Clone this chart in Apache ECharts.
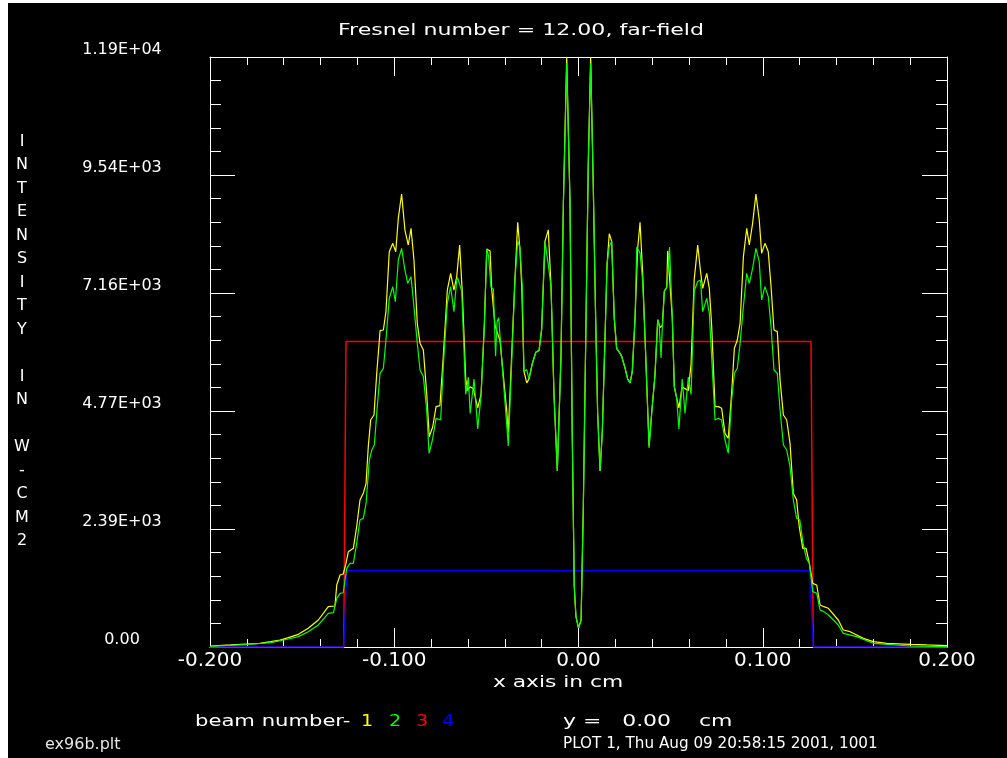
<!DOCTYPE html>
<html>
<head>
<meta charset="utf-8">
<script src="https://cdn.jsdelivr.net/npm/echarts@6/dist/echarts.min.js"></script>
<style>
  html, body { margin: 0; padding: 0; background: #ffffff; }
  #chart { width: 1007px; height: 758px; }
</style>
</head>
<body>
<div id="chart"></div>
<script>
// Far-field intensity profiles, beams 1-4 (x in cm, intensity in W/cm2)
const xTickLabels = ['-0.200', '-0.100', '0.00', '0.100', '0.200'];
const yTickLabels = ['0.00', '2.39E+03', '4.77E+03', '7.16E+03', '9.54E+03', '1.19E+04'];
const X_MIN = -0.2, X_MAX = 0.2, X_STEP = 0.1;
const Y_MIN = 0, Y_MAX = 11925, Y_STEP = 2385;

const beam1 = [
  [-0.200, 20], [-0.189, 41], [-0.180, 61], [-0.173, 75], [-0.167, 108], [-0.162, 142], [-0.1575, 189],
  [-0.152, 256], [-0.1467, 378], [-0.1412, 546], [-0.1358, 815], [-0.1322, 829], [-0.1312, 1253],
  [-0.1294, 1455], [-0.1277, 1475], [-0.1262, 1691], [-0.1249, 1926], [-0.1222, 1994], [-0.1204, 2431],
  [-0.1186, 2971], [-0.1168, 3106], [-0.1153, 3308], [-0.1141, 4048], [-0.1128, 4588], [-0.111, 4689],
  [-0.1095, 5532], [-0.1077, 6393], [-0.1059, 6407], [-0.1045, 6777], [-0.1027, 7990], [-0.1008, 8159],
  [-0.0992, 7990], [-0.0978, 8664], [-0.096, 9156], [-0.0942, 8428], [-0.0924, 8125], [-0.0909, 8462],
  [-0.0893, 7822], [-0.0875, 6542], [-0.086, 6138], [-0.0842, 6003], [-0.0824, 5127], [-0.081, 4250],
  [-0.0791, 4452], [-0.0773, 4857], [-0.0752, 4877], [-0.0734, 5867], [-0.0712, 7215], [-0.0694, 7553],
  [-0.0676, 7215], [-0.0661, 7485], [-0.0645, 8122], [-0.063, 7117], [-0.0612, 5415], [-0.0601, 5183],
  [-0.0589, 5260], [-0.0571, 5222], [-0.0547, 4835], [-0.0529, 5105], [-0.0511, 6498], [-0.0498, 8045],
  [-0.048, 8006], [-0.0471, 7233], [-0.0453, 6498], [-0.0444, 6459], [-0.0426, 6188], [-0.0408, 5492],
  [-0.039, 4796], [-0.0381, 4332], [-0.0363, 5879], [-0.0345, 7426], [-0.033, 8586], [-0.0318, 8045],
  [-0.0308, 7271], [-0.0296, 5569], [-0.0281, 5338], [-0.0269, 5415], [-0.0251, 5724], [-0.0232, 5956],
  [-0.0214, 5995], [-0.02, 6420], [-0.0182, 8200], [-0.0164, 8432], [-0.0149, 7271], [-0.0133, 5105],
  [-0.0115, 3559], [-0.0095, 5879], [-0.0082, 8973], [-0.0064, 11925], [-0.0046, 8973], [-0.0034, 4332],
  [-0.0023, 1238], [-0.0014, 619], [0, 387], [0.0014, 542], [0.0026, 2785], [0.0041, 6653], [0.0053, 9747],
  [0.0066, 11925], [0.008, 9360], [0.0093, 6653], [0.0104, 4719], [0.0117, 3559], [0.0129, 4332],
  [0.0144, 6266], [0.0155, 7735], [0.0167, 8354], [0.018, 8200], [0.0194, 6653], [0.0207, 6034],
  [0.0222, 5956], [0.0234, 5879], [0.0252, 5647], [0.0267, 5415], [0.028, 5338], [0.0292, 5569],
  [0.0307, 6653], [0.0321, 8045], [0.0334, 8586], [0.0348, 7581], [0.0361, 6266], [0.0383, 4061],
  [0.0397, 4719], [0.0415, 5492], [0.043, 6614], [0.0442, 6459], [0.0455, 6498], [0.0466, 7194],
  [0.0479, 7271], [0.0484, 8006], [0.0493, 8006], [0.0509, 6653], [0.052, 5261], [0.0533, 5028],
  [0.0545, 4835], [0.0563, 5261], [0.0578, 5222], [0.0596, 5183], [0.0611, 5724], [0.0628, 7426],
  [0.0647, 8122], [0.0662, 7600], [0.0674, 7249], [0.0696, 7553], [0.071, 7249], [0.0723, 6475],
  [0.0741, 4858], [0.0759, 4858], [0.0777, 4824], [0.0795, 4319], [0.0813, 4218], [0.0831, 5127],
  [0.0846, 6037], [0.0862, 6205], [0.0877, 6542], [0.0895, 7890], [0.0913, 8462], [0.0927, 8125],
  [0.0945, 8563], [0.0963, 9156], [0.0981, 8631], [0.0994, 7957], [0.1012, 8159], [0.103, 7990],
  [0.1045, 7283], [0.1061, 6407], [0.1079, 6374], [0.1094, 5397], [0.1112, 4689], [0.113, 4588],
  [0.1148, 4117], [0.1166, 3106], [0.1184, 2971], [0.1198, 2433], [0.1217, 1994], [0.1235, 1994],
  [0.1253, 1691], [0.1271, 1287], [0.1293, 1253], [0.1311, 849], [0.1332, 815], [0.1356, 782],
  [0.141, 546], [0.1437, 344], [0.1474, 310], [0.151, 243], [0.1546, 175], [0.16, 108], [0.1673, 75],
  [0.18, 54], [0.189, 41], [0.2, 27]
];

const beam2 = [
  [-0.2, 15], [-0.18, 50], [-0.167, 90], [-0.1575, 162], [-0.152, 210], [-0.1467, 310], [-0.1412, 445],
  [-0.1358, 681], [-0.133, 693], [-0.1312, 984], [-0.1294, 1085], [-0.1277, 1097], [-0.1258, 1590],
  [-0.124, 1691], [-0.1222, 1691], [-0.1204, 2096], [-0.1186, 2567], [-0.1168, 2601], [-0.1153, 2904],
  [-0.1135, 3779], [-0.1122, 3981], [-0.1108, 4082], [-0.1095, 4723], [-0.1077, 5532], [-0.1059, 5633],
  [-0.1045, 6205], [-0.1027, 7048], [-0.1008, 7282], [-0.0994, 6979], [-0.0978, 7822], [-0.096, 8058],
  [-0.0942, 7620], [-0.0927, 7351], [-0.0909, 7485], [-0.0893, 6878], [-0.0875, 6138], [-0.086, 5599],
  [-0.0842, 5464], [-0.0824, 4790], [-0.0811, 3915], [-0.0793, 4184], [-0.0773, 4622], [-0.0748, 4588],
  [-0.0734, 5666], [-0.0712, 6946], [-0.0694, 7282], [-0.0676, 6777], [-0.0661, 7418], [-0.0656, 7465],
  [-0.0634, 7194], [-0.0612, 5105], [-0.0598, 5453], [-0.0588, 4719], [-0.0567, 5415], [-0.0547, 4409],
  [-0.0529, 5067], [-0.0511, 6498], [-0.0498, 8045], [-0.0488, 7900], [-0.0475, 7271], [-0.0462, 7233],
  [-0.045, 5879], [-0.0442, 6575], [-0.0433, 6653], [-0.0418, 5879], [-0.0399, 4951], [-0.0381, 4061],
  [-0.0363, 5724], [-0.0345, 7426], [-0.033, 8200], [-0.0318, 8084], [-0.0305, 7271], [-0.0296, 5569],
  [-0.0281, 5608], [-0.0269, 5415], [-0.0251, 5724], [-0.0232, 5956], [-0.0214, 5995], [-0.02, 6420],
  [-0.0182, 8200], [-0.0173, 8240], [-0.0164, 7735], [-0.0149, 7271], [-0.0133, 5105], [-0.0115, 3559],
  [-0.0095, 5879], [-0.0082, 8973], [-0.0064, 11800], [-0.0046, 8973], [-0.0034, 4332], [-0.0023, 1238],
  [-0.0014, 619], [0, 387], [0.0014, 542], [0.0026, 2785], [0.0041, 6653], [0.0053, 9747], [0.0066, 11800],
  [0.008, 9360], [0.0093, 6653], [0.0104, 4719], [0.0117, 3559], [0.0129, 4332], [0.0144, 6266],
  [0.0155, 7735], [0.0167, 8100], [0.018, 8200], [0.0194, 6653], [0.0207, 6034], [0.0222, 5956],
  [0.0234, 5879], [0.0252, 5647], [0.0267, 5415], [0.028, 5338], [0.0292, 5569], [0.0307, 6653],
  [0.0316, 8084], [0.0334, 7967], [0.0348, 7400], [0.0361, 6266], [0.0383, 4023], [0.0397, 4719],
  [0.0415, 5492], [0.043, 6614], [0.0438, 6500], [0.0448, 5840], [0.0455, 6459], [0.0466, 7194],
  [0.0479, 7271], [0.0494, 8084], [0.0509, 6653], [0.052, 5261], [0.0533, 5028], [0.0545, 4409],
  [0.0563, 5415], [0.0578, 4719], [0.0596, 5453], [0.0611, 5105], [0.0628, 7194], [0.0647, 7387],
  [0.0662, 7418], [0.0674, 6778], [0.0696, 7047], [0.071, 6744], [0.0741, 4588], [0.0759, 4622],
  [0.0777, 4588], [0.0795, 4184], [0.0813, 3915], [0.0831, 4993], [0.0846, 5532], [0.0862, 5633],
  [0.0877, 6138], [0.0895, 6879], [0.0913, 7553], [0.0927, 7350], [0.0945, 7654], [0.0963, 8058],
  [0.0981, 7788], [0.0994, 7014], [0.1012, 7283], [0.103, 7081], [0.1045, 6475], [0.1061, 5599],
  [0.1079, 5532], [0.1094, 4790], [0.1112, 4083], [0.113, 3982], [0.1148, 3645], [0.1166, 2971],
  [0.1184, 2601], [0.1201, 2567], [0.1219, 2096], [0.1237, 1792], [0.1253, 1691], [0.1271, 1119],
  [0.1293, 1085], [0.1311, 748], [0.1332, 715], [0.1356, 647], [0.141, 445], [0.1437, 276], [0.151, 209],
  [0.16, 75], [0.18, 20], [0.2, 7]
];

const beam3 = [[-0.2, 0], [-0.1274, 0], [-0.1262, 6175], [0.1262, 6175], [0.1274, 0], [0.2, 0]];
const beam4 = [[-0.2, 0], [-0.1274, 0], [-0.1258, 1542], [0.1253, 1542], [0.1274, 0], [0.2, 0]];

const beamColors = ['#ffff00', '#00ff00', '#ff0000', '#0000ff'];
const FONT = 'DejaVu Sans';
const yTitleChars = ['I', 'N', 'T', 'E', 'N', 'S', 'I', 'T', 'Y', ' ', 'I', 'N', ' ', 'W', '-', 'C', 'M', '2'];

const white = '#ffffff';

function xAxisDef(position, showLabels) {
  return {
    type: 'value', position: position, min: X_MIN, max: X_MAX, interval: X_STEP,
    axisLine: { show: true, onZero: false, lineStyle: { color: white, width: 1 } },
    axisTick: { show: true, inside: true, length: 19, lineStyle: { color: white, width: 1 } },
    minorTick: { show: true, splitNumber: 5, length: 8, lineStyle: { color: white, width: 1 } },
    splitLine: { show: false }, minorSplitLine: { show: false },
    axisLabel: {
      show: showLabels, color: white, fontFamily: FONT, fontSize: 20, margin: 4,
      formatter: v => xTickLabels[Math.round((v - X_MIN) / X_STEP)]
    }
  };
}
function yAxisDef(position, showLabels) {
  return {
    type: 'value', position: position, min: Y_MIN, max: Y_MAX, interval: Y_STEP,
    axisLine: { show: true, onZero: false, lineStyle: { color: white, width: 1 } },
    axisTick: { show: true, inside: true, length: 25, lineStyle: { color: white, width: 1 } },
    minorTick: { show: true, splitNumber: 5, length: 11, lineStyle: { color: white, width: 1 } },
    splitLine: { show: false }, minorSplitLine: { show: false },
    axisLabel: {
      show: showLabels, color: white, fontFamily: FONT, fontSize: 16, margin: 88,
      align: 'center', verticalAlign: 'bottom', lineHeight: 14,
      formatter: v => yTickLabels[Math.round((v - Y_MIN) / Y_STEP)]
    }
  };
}

function lineSeries(name, data, color, width) {
  return {
    name: name, type: 'line', data: data, showSymbol: false, symbol: 'none',
    xAxisIndex: 0, yAxisIndex: 0, animation: false,
    lineStyle: { color: color, width: width }, itemStyle: { color: color }
  };
}

function label(text, x, y, opts) {
  opts = opts || {};
  return {
    type: 'text', x: x, y: y, scaleX: opts.scaleX || 1, silent: true, z: 10,
    style: {
      text: text, fill: opts.color || white, font: (opts.size || 16) + 'px "' + FONT + '"',
      textAlign: opts.align || 'left', textVerticalAlign: 'middle'
    }
  };
}

const chart = echarts.init(document.getElementById('chart'), null, { renderer: 'canvas' });
chart.setOption({
  backgroundColor: '#ffffff',
  animation: false,
  grid: { left: 210, right: 60, top: 57, bottom: 111, containLabel: false },
  xAxis: [xAxisDef('bottom', true), xAxisDef('top', false)],
  yAxis: [yAxisDef('left', true), yAxisDef('right', false)],
  series: [
    lineSeries('3', beam3, beamColors[2], 1.5),
    lineSeries('4', beam4, beamColors[3], 1.3),
    lineSeries('1', beam1, beamColors[0], 1.2),
    lineSeries('2', beam2, beamColors[1], 1.2)
  ],
  graphic: [
    { type: 'rect', silent: true, z: -100, shape: { x: 8, y: 3, width: 999, height: 755 }, style: { fill: '#000000' } },
    label('Fresnel number = 12.00, far-field', 521, 31, { align: 'center', scaleX: 1.38 }),
    label('x axis in cm', 558, 683, { align: 'center', scaleX: 1.36 }),
    {
      type: 'text', x: 22, y: 130, silent: true, z: 10,
      style: {
        text: yTitleChars.join('\n'), fill: white, font: '16px "' + FONT + '"',
        textAlign: 'center', textVerticalAlign: 'top', lineHeight: 23.5
      }
    },
    label('beam number-', 195, 722, { scaleX: 1.32 }),
    label('1', 367, 722, { align: 'center', color: beamColors[0], scaleX: 1.2 }),
    label('2', 395, 722, { align: 'center', color: beamColors[1], scaleX: 1.2 }),
    label('3', 422, 722, { align: 'center', color: beamColors[2], scaleX: 1.2 }),
    label('4', 448, 722, { align: 'center', color: beamColors[3], scaleX: 1.2 }),
    label('y =   0.00    cm', 563, 722, { scaleX: 1.37 }),
    label('ex96b.plt', 45, 745, { color: '#e6e6e6' }),
    label('PLOT 1, Thu Aug 09 20:58:15 2001, 1001', 563, 744, { scaleX: 0.95 })
  ]
});
</script>
</body>
</html>
